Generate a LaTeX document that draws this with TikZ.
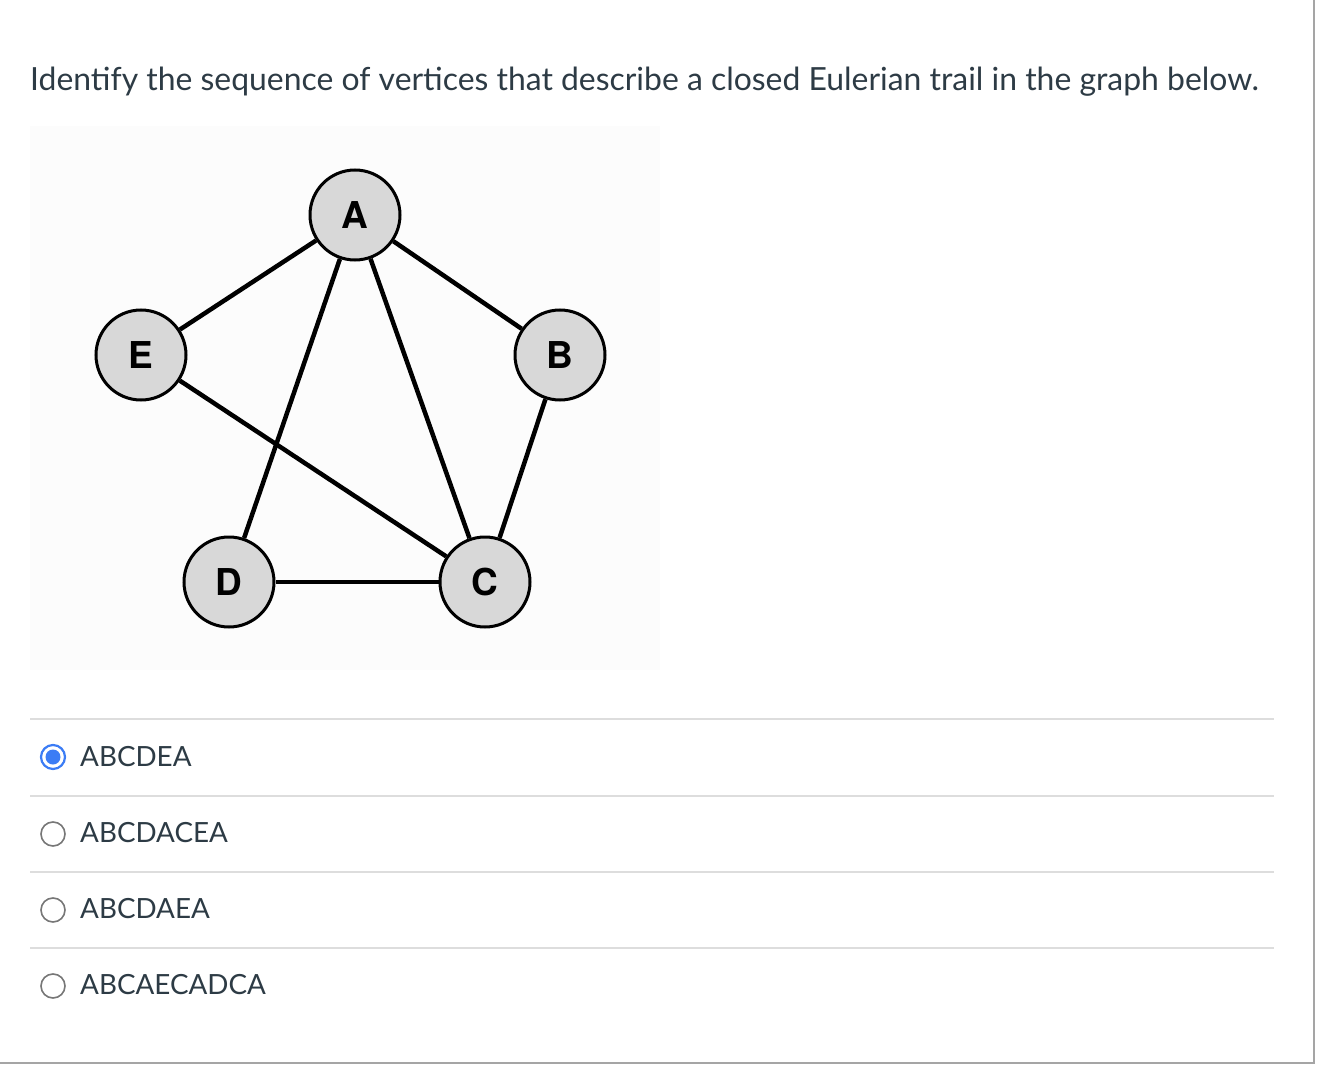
\documentclass[tikz,border=0pt]{standalone}
\usepackage{fontspec}
\setmainfont{Lato}
\newfontfamily\nodefont{TeX Gyre Heros}
\definecolor{txt}{HTML}{2D3B45}
\definecolor{sep}{HTML}{DDDDDD}
\definecolor{frame}{HTML}{A5A5A5}
\definecolor{nodefill}{HTML}{D8D8D8}
\definecolor{radioblue}{HTML}{3B7CF5}
\definecolor{radiogray}{HTML}{777777}
\definecolor{graphbg}{HTML}{FCFCFC}
\begin{document}
\begin{tikzpicture}[x=1pt,y=-1pt,
  vertex/.style={circle,draw=black,line width=3pt,fill=nodefill,minimum size=90pt,inner sep=0pt,font=\nodefont\bfseries\fontsize{37}{40}\selectfont},
  edge/.style={line width=4.5pt,black},
  septr/.style={draw=sep,line width=2pt},
  opt/.style={anchor=west,text=txt,font=\fontsize{27.8}{32}\selectfont,inner sep=0pt},
  radiooff/.style={circle,draw=radiogray,line width=1.6pt,minimum size=24pt,inner sep=0pt}]
\useasboundingbox (0,0) rectangle (1318,1070);
\fill[white] (0,0) rectangle (1318,1070);
% outer frame
\draw[frame,line width=2.5pt] (1314,0) -- (1314,1063) -- (0,1063);
% title
\node[anchor=base west,text=txt,font=\fontsize{31.9}{36}\selectfont,inner sep=0pt] (title) at (30,91) {Identify the sequence of vertices that describe a closed Eulerian trail in the graph below.};
% graph background
\fill[graphbg] (30,126) rectangle (660,670);
% vertices
\node[vertex] (A) at (355,215) {A};
\node[vertex] (E) at (141,355) {E};
\node[vertex] (B) at (560,355) {B};
\node[vertex] (D) at (229,582) {D};
\node[vertex] (C) at (485,582) {C};
\draw[edge] (E) -- (A);
\draw[edge] (A) -- (B);
\draw[edge] (A) -- (D);
\draw[edge] (A) -- (C);
\draw[edge] (E) -- (C);
\draw[edge] (B) -- (C);
\draw[edge] (D) -- (C);
% separators
\draw[septr] (30,719) -- (1274,719);
\draw[septr] (30,796) -- (1274,796);
\draw[septr] (30,872) -- (1274,872);
\draw[septr] (30,948) -- (1274,948);
% options
\node[circle,draw=radioblue,line width=2.2pt,fill=white,minimum size=24pt,inner sep=0pt] (r1) at (53,757) {};
\fill[radioblue] (r1.center) circle (7.5pt);
\node[opt] (o1) at (80,757) {ABCDEA};
\node[radiooff] (r2) at (53,834) {};
\node[opt] (o2) at (80,833) {ABCDACEA};
\node[radiooff] (r3) at (53,910) {};
\node[opt] (o3) at (80,909) {ABCDAEA};
\node[radiooff] (r4) at (53,986) {};
\node[opt] (o4) at (80,985) {ABCAECADCA};
\end{tikzpicture}
\end{document}
